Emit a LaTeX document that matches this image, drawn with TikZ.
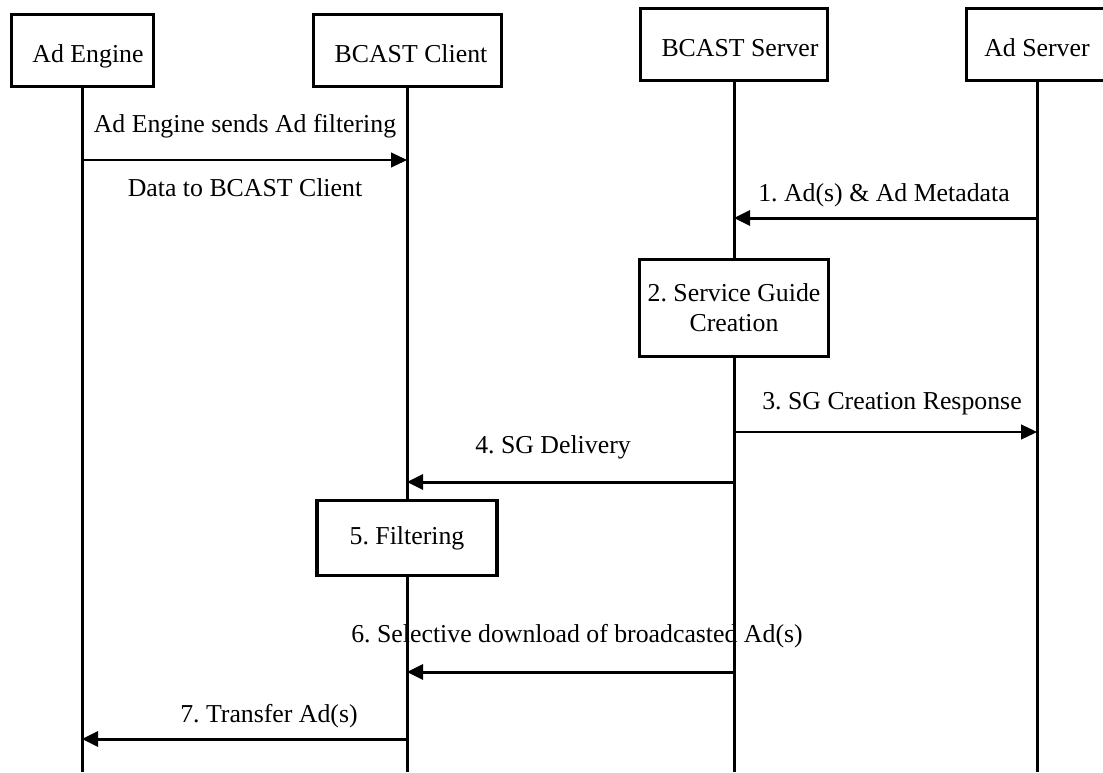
\documentclass[tikz,border=0pt]{standalone}
\usepackage{fontspec}
\setmainfont{Liberation Serif}
\usetikzlibrary{arrows.meta}
\frenchspacing

\tikzset{
  head/.style={draw, line width=3pt, minimum height=72pt, inner sep=2pt,
    text height=24pt, text depth=0pt},
  life/.style={line width=3pt},
  act/.style={draw, line width=3.5pt, align=center, inner sep=2pt},
  msg/.style={-{Triangle[length=16pt,width=15pt]}, line width=3pt},
  thinmsg/.style={-{Triangle[length=16pt,width=15pt]}, line width=1.2pt},
}

\begin{document}
\begin{tikzpicture}[x=1pt,y=-1pt,font=\fontsize{25.8}{30}\selectfont]
    \useasboundingbox (0,0) rectangle (1103,772);

    % heads
    \node[head, minimum width=142pt] (ae) at (82,50) {\hspace*{12pt}Ad Engine};
    \node[head, minimum width=188pt] (bc) at (407,50) {\hspace*{8pt}BCAST Client};
    \node[head, minimum width=187pt] (bs) at (734,44) {\hspace*{12pt}BCAST Server};
    \node[head, minimum width=142pt] (as) at (1037,44) {Ad Server};

    % boxes on the lifelines
    \node[act, minimum width=189pt, minimum height=97pt] (sg) at (734,308) {2. Service Guide\\Creation};
    \node[act, minimum width=180pt, minimum height=75pt] (flt) at (407,538) {5. Filtering};

    % lifeline ends
    \coordinate (aeend) at (82,772);
    \coordinate (bcend) at (407,772);
    \coordinate (bsend) at (734,772);
    \coordinate (asend) at (1037,772);

    \draw[life] (ae.south) -- (aeend);
    \draw[life] (bc.south) -- (flt.north);
    \draw[life] (flt.south) -- (bcend);
    \draw[life] (bs.south) -- (sg.north);
    \draw[life] (sg.south) -- (bsend);
    \draw[life] (as.south) -- (asend);

    % message ends
    \coordinate (m0a) at (82,160);
    \coordinate (m0b) at (407,160);
    \coordinate (m1a) at (1037,218);
    \coordinate (m1b) at (734,218);
    \coordinate (m3a) at (734,432);
    \coordinate (m3b) at (1037,432);
    \coordinate (m4a) at (734,482);
    \coordinate (m4b) at (407,482);
    \coordinate (m6a) at (734,672);
    \coordinate (m6b) at (407,672);
    \coordinate (m7a) at (407,739);
    \coordinate (m7b) at (82,739);

    \draw[thinmsg] (m0a) -- (m0b);
    \draw[msg] (m1a) -- (m1b);
    \draw[thinmsg] (m3a) -- (m3b);
    \draw[msg] (m4a) -- (m4b);
    \draw[msg] (m6a) -- (m6b);
    \draw[msg] (m7a) -- (m7b);

    % message labels
    \node (l0a) at (245,126) {Ad Engine sends Ad filtering};
    \node (l0b) at (245,188) {Data to BCAST Client};
    \node (l1) at (884,195) {1. Ad(s) \& Ad Metadata};
    \node (l3) at (892,404) {3. SG Creation Response};
    \node (l4) at (553,447) {4. SG Delivery};
    \node (l6) at (577,636) {6. Selective download of broadcasted Ad(s)};
    \node (l7) at (269,716) {7. Transfer Ad(s)};

\end{tikzpicture}
\end{document}
